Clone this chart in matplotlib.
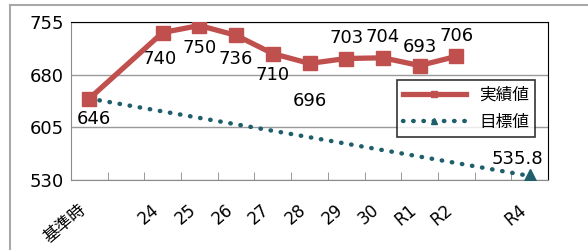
import matplotlib
matplotlib.use("Agg")
import matplotlib.pyplot as plt
from matplotlib.lines import Line2D

plt.rcParams['font.family'] = ['DejaVu Sans', 'Noto Sans CJK JP']

categories = ['基準時', '', '24', '25', '26', '27', '28', '29', '30', 'R1', 'R2', '', 'R4']
actual = [646, None, 740, 750, 736, 710, 696, 703, 704, 693, 706, None, None]
target = [646, None, None, None, None, None, None, None, None, None, None, None, 535.8]
actual_labels = ['646', '', '740', '750', '736', '710', '696', '703', '704', '693', '706', '', '']
target_labels = ['', '', '', '', '', '', '', '', '', '', '', '', '535.8']

# label offsets in points (x, y)
actual_offsets = [(3, -15), None, (-2, -19), (0, -16), (0, -17), (0, -15.5), (0, -27),
                  (0, 15), (0, 15), (0, 13), (0, 15), None, None]
target_offsets = [None] * 12 + [(-9, 12)]

red = '#C0504D'
teal = '#1E5F6B'

def main():
    fig = plt.figure(figsize=(5.88, 2.5), dpi=100)
    ax = fig.add_axes([71 / 588, 1 - 180 / 250, 477 / 588, 158 / 250])

    xa = [i for i, v in enumerate(actual) if v is not None]
    ya = [v for v in actual if v is not None]
    xt = [i for i, v in enumerate(target) if v is not None]
    yt = [v for v in target if v is not None]

    ax.plot(xt, yt, linestyle=(0, (0.1, 2.2)), dash_capstyle='round', color=teal, linewidth=3.2,
            marker='^', markersize=10, markevery=[len(xt) - 1], label='目標値', zorder=3)
    ax.plot(xa, ya, color=red, linewidth=3.8, marker='s', markersize=10.5, label='実績値', zorder=4)

    for i, (lab, off) in enumerate(zip(actual_labels, actual_offsets)):
        if lab:
            ax.annotate(lab, (i, actual[i]), xytext=off, textcoords='offset points',
                        ha='center', va='center', fontsize=13)
    for i, (lab, off) in enumerate(zip(target_labels, target_offsets)):
        if lab:
            ax.annotate(lab, (i, target[i]), xytext=off, textcoords='offset points',
                        ha='center', va='center', fontsize=13)

    ax.set_xlim(-0.5, len(categories) - 0.5)
    ax.set_ylim(530, 755)
    ax.set_yticks([530, 605, 680, 755])
    ax.tick_params(axis='y', length=0, labelsize=13, pad=5)
    ax.yaxis.grid(True, color='#9a9a9a', linewidth=1)
    ax.set_axisbelow(True)

    ax.set_xticks(range(len(categories)))
    ax.set_xticklabels(categories, rotation=40, ha='right', fontsize=12)
    ax.set_xticks([i + 0.5 for i in range(len(categories) - 1)], minor=True)
    ax.tick_params(axis='x', which='major', length=0, pad=15)
    ax.tick_params(axis='x', which='minor', direction='in', length=6, color='#888888')

    for s in ['left', 'bottom']:
        ax.spines[s].set_color('#8c8c8c')
    for s in ['top', 'right']:
        ax.spines[s].set_color('black')

    handles, labels = ax.get_legend_handles_labels()
    leg = ax.legend(handles[::-1], labels[::-1], loc='upper left', bbox_to_anchor=(0.683, 0.633),
                    borderaxespad=0, fontsize=12, frameon=True, fancybox=False, edgecolor='black',
                    handlelength=3.8, borderpad=0.35, labelspacing=0.55, markerscale=0.45)
    leg.get_frame().set_linewidth(1.2)

    # outer chart frame
    fig.add_artist(Line2D([10 / 588, 10 / 588], [0, 1 - 5 / 250], color='#a8a8a8', linewidth=1.5))
    fig.add_artist(Line2D([10 / 588, 1], [1 - 5 / 250, 1 - 5 / 250], color='#a8a8a8', linewidth=1.5))

    plt.savefig('out.png', dpi=100)
    plt.close('all')


if __name__ == '__main__':
    main()
